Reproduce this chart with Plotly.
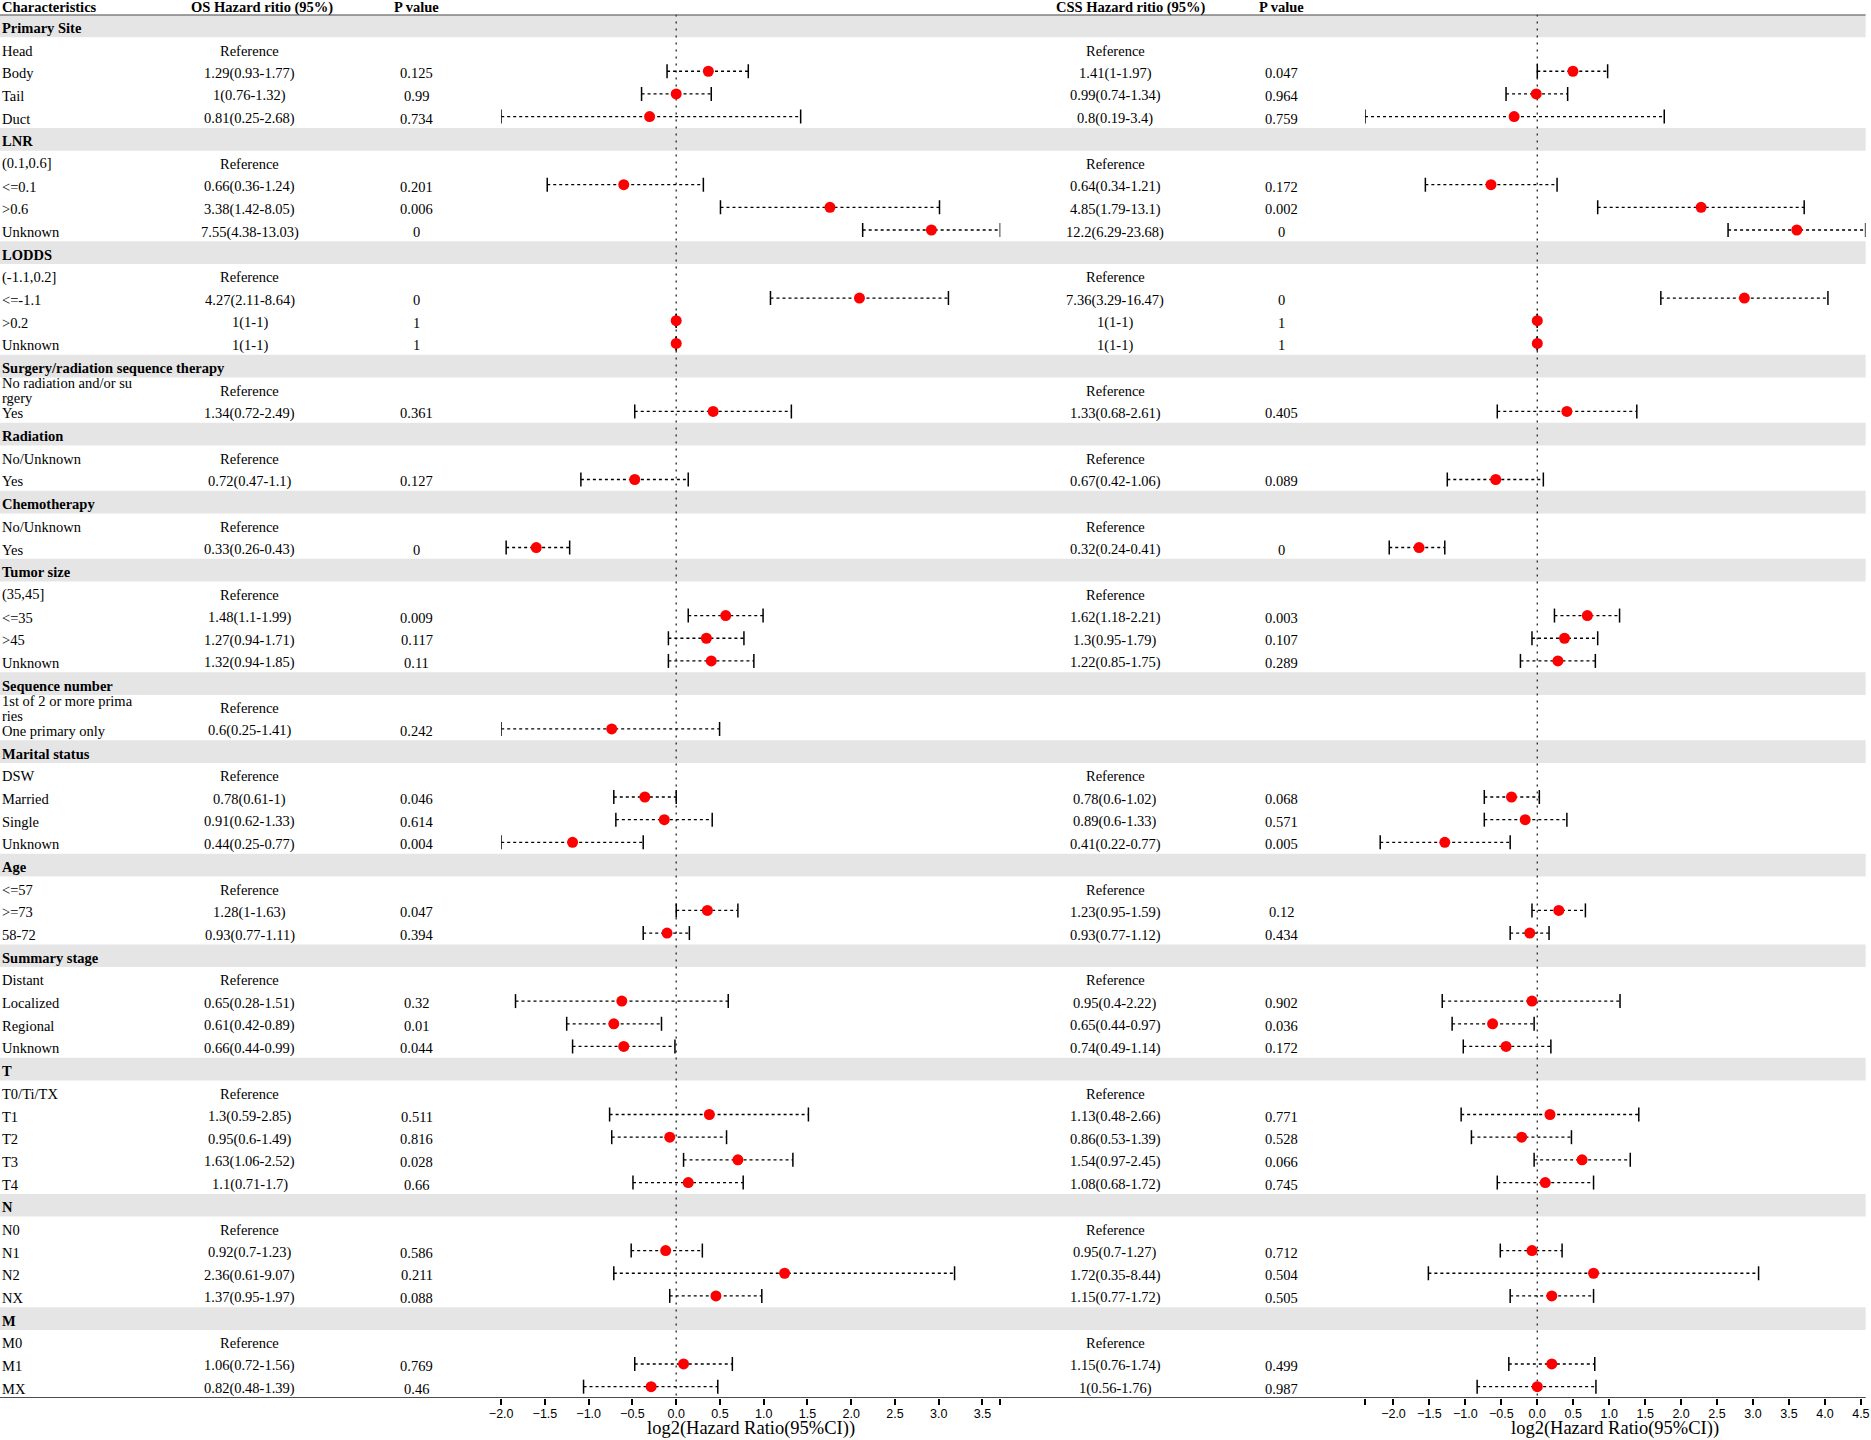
import numpy as np
import plotly.graph_objects as go

# rows of the table, top to bottom ("\n" = the label wraps onto two lines)
labels = [
    "Primary Site", "Head", "Body", "Tail", "Duct",
    "LNR", "(0.1,0.6]", "<=0.1", ">0.6", "Unknown",
    "LODDS", "(-1.1,0.2]", "<=-1.1", ">0.2", "Unknown",
    "Surgery/radiation sequence therapy", "No radiation and/or su\nrgery", "Yes",
    "Radiation", "No/Unknown", "Yes",
    "Chemotherapy", "No/Unknown", "Yes",
    "Tumor size", "(35,45]", "<=35", ">45", "Unknown",
    "Sequence number", "1st of 2 or more prima\nries", "One primary only",
    "Marital status", "DSW", "Married", "Single", "Unknown",
    "Age", "<=57", ">=73", "58-72",
    "Summary stage", "Distant", "Localized", "Regional", "Unknown",
    "T", "T0/Ti/TX", "T1", "T2", "T3", "T4",
    "N", "N0", "N1", "N2", "NX",
    "M", "M0", "M1", "MX",
]
group_names = ["Primary Site", "LNR", "LODDS", "Surgery/radiation sequence therapy",
               "Radiation", "Chemotherapy", "Tumor size", "Sequence number",
               "Marital status", "Age", "Summary stage", "T", "N", "M"]

# overall survival
os_hr = [None, None, 1.29, 1, 0.81,
         None, None, 0.66, 3.38, 7.55,
         None, None, 4.27, 1, 1,
         None, None, 1.34,
         None, None, 0.72,
         None, None, 0.33,
         None, None, 1.48, 1.27, 1.32,
         None, None, 0.6,
         None, None, 0.78, 0.91, 0.44,
         None, None, 1.28, 0.93,
         None, None, 0.65, 0.61, 0.66,
         None, None, 1.3, 0.95, 1.63, 1.1,
         None, None, 0.92, 2.36, 1.37,
         None, None, 1.06, 0.82]
os_lo = [None, None, 0.93, 0.76, 0.25,
         None, None, 0.36, 1.42, 4.38,
         None, None, 2.11, 1, 1,
         None, None, 0.72,
         None, None, 0.47,
         None, None, 0.26,
         None, None, 1.1, 0.94, 0.94,
         None, None, 0.25,
         None, None, 0.61, 0.62, 0.25,
         None, None, 1, 0.77,
         None, None, 0.28, 0.42, 0.44,
         None, None, 0.59, 0.6, 1.06, 0.71,
         None, None, 0.7, 0.61, 0.95,
         None, None, 0.72, 0.48]
os_hi = [None, None, 1.77, 1.32, 2.68,
         None, None, 1.24, 8.05, 13.03,
         None, None, 8.64, 1, 1,
         None, None, 2.49,
         None, None, 1.1,
         None, None, 0.43,
         None, None, 1.99, 1.71, 1.85,
         None, None, 1.41,
         None, None, 1, 1.33, 0.77,
         None, None, 1.63, 1.11,
         None, None, 1.51, 0.89, 0.99,
         None, None, 2.85, 1.49, 2.52, 1.7,
         None, None, 1.23, 9.07, 1.97,
         None, None, 1.56, 1.39]
os_p = [None, None, 0.125, 0.99, 0.734,
        None, None, 0.201, 0.006, 0,
        None, None, 0, 1, 1,
        None, None, 0.361,
        None, None, 0.127,
        None, None, 0,
        None, None, 0.009, 0.117, 0.11,
        None, None, 0.242,
        None, None, 0.046, 0.614, 0.004,
        None, None, 0.047, 0.394,
        None, None, 0.32, 0.01, 0.044,
        None, None, 0.511, 0.816, 0.028, 0.66,
        None, None, 0.586, 0.211, 0.088,
        None, None, 0.769, 0.46]

# cancer-specific survival
css_hr = [None, None, 1.41, 0.99, 0.8,
          None, None, 0.64, 4.85, 12.2,
          None, None, 7.36, 1, 1,
          None, None, 1.33,
          None, None, 0.67,
          None, None, 0.32,
          None, None, 1.62, 1.3, 1.22,
          None, None, None,
          None, None, 0.78, 0.89, 0.41,
          None, None, 1.23, 0.93,
          None, None, 0.95, 0.65, 0.74,
          None, None, 1.13, 0.86, 1.54, 1.08,
          None, None, 0.95, 1.72, 1.15,
          None, None, 1.15, 1]
css_lo = [None, None, 1, 0.74, 0.19,
          None, None, 0.34, 1.79, 6.29,
          None, None, 3.29, 1, 1,
          None, None, 0.68,
          None, None, 0.42,
          None, None, 0.24,
          None, None, 1.18, 0.95, 0.85,
          None, None, None,
          None, None, 0.6, 0.6, 0.22,
          None, None, 0.95, 0.77,
          None, None, 0.4, 0.44, 0.49,
          None, None, 0.48, 0.53, 0.97, 0.68,
          None, None, 0.7, 0.35, 0.77,
          None, None, 0.76, 0.56]
css_hi = [None, None, 1.97, 1.34, 3.4,
          None, None, 1.21, 13.1, 23.68,
          None, None, 16.47, 1, 1,
          None, None, 2.61,
          None, None, 1.06,
          None, None, 0.41,
          None, None, 2.21, 1.79, 1.75,
          None, None, None,
          None, None, 1.02, 1.33, 0.77,
          None, None, 1.59, 1.12,
          None, None, 2.22, 0.97, 1.14,
          None, None, 2.66, 1.39, 2.45, 1.72,
          None, None, 1.27, 8.44, 1.72,
          None, None, 1.74, 1.76]
css_p = [None, None, 0.047, 0.964, 0.759,
         None, None, 0.172, 0.002, 0,
         None, None, 0, 1, 1,
         None, None, 0.405,
         None, None, 0.089,
         None, None, 0,
         None, None, 0.003, 0.107, 0.289,
         None, None, None,
         None, None, 0.068, 0.571, 0.005,
         None, None, 0.12, 0.434,
         None, None, 0.902, 0.036, 0.172,
         None, None, 0.771, 0.528, 0.066, 0.745,
         None, None, 0.712, 0.504, 0.505,
         None, None, 0.499, 0.987]

W, H = 1871, 1440
n = len(labels)
rows = np.arange(1, n + 1)
is_group = [lab in group_names for lab in labels]
SERIF = "Liberation Serif"
SANS = "Liberation Sans"
FS = 14.5
TXT_SHIFT = -2   # table text sits a touch below the row centre

def px(x):
    return x / W

def esc(s):
    return s.replace("<", "&lt;").replace(">", "&gt;")

# pixel layout of the two forest panels
os_dom = [px(501.2), px(1000.3)]
css_dom = [px(1365.0), px(1865.6)]
right_edge = px(1865.6)

fig = go.Figure()
annotations = []
shapes = []

# grey group bands
for r, g in zip(rows, is_group):
    if g:
        shapes.append(dict(type="rect", xref="paper", yref="y", x0=0, x1=right_edge,
                           y0=r - 0.5, y1=r + 0.5, fillcolor="#e5e5e5",
                           line=dict(width=0), layer="below"))


def group_has_data(hr, i):
    j = i
    while j >= 0 and not is_group[j]:
        j -= 1
    k = j + 1
    while k < n and not is_group[k]:
        if hr[k] is not None:
            return True
        k += 1
    return False


def cell(x, r, text):
    annotations.append(dict(x=px(x), y=r, xref="paper", yref="y", text=text,
                            showarrow=False, yshift=TXT_SHIFT,
                            font=dict(family=SERIF, size=FS, color="black"),
                            xanchor="center", yanchor="middle"))


def add_side(hr, lo, hi, p, xref, hr_x, p_x):
    xs, ys, cx, cy, mx, my = [], [], [], [], [], []
    for i in range(n):
        r = rows[i]
        if is_group[i]:
            continue
        if hr[i] is None:
            if group_has_data(hr, i):
                cell(hr_x, r, "Reference")
            continue
        cell(hr_x, r, f"{hr[i]:g}({lo[i]:g}-{hi[i]:g})")
        cell(p_x, r, f"{p[i]:g}")
        l, u = np.log2(lo[i]), np.log2(hi[i])
        xs += [l, u, None]
        ys += [r, r, None]
        cx += [l, u]
        cy += [r, r]
        mx.append(np.log2(hr[i]))
        my.append(r)
    fig.add_trace(go.Scatter(x=xs, y=ys, xaxis=xref, yaxis="y", mode="lines",
                             line=dict(color="black", width=1.3, dash="3px,3px"),
                             hoverinfo="skip"))
    fig.add_trace(go.Scatter(x=cx, y=cy, xaxis=xref, yaxis="y", mode="markers",
                             marker=dict(symbol="line-ns-open", size=10, color="black",
                                         line=dict(color="black", width=1.5)),
                             hoverinfo="skip"))
    fig.add_trace(go.Scatter(x=mx, y=my, xaxis=xref, yaxis="y", mode="markers",
                             marker=dict(symbol="circle", size=11, color="#ff0000",
                                         line=dict(width=0))))


add_side(os_hr, os_lo, os_hi, os_p, "x", 250, 416.5)
add_side(css_hr, css_lo, css_hi, css_p, "x2", 1115, 1281.5)

# characteristics column
for r, lab, g in zip(rows, labels, is_group):
    lines = lab.split("\n")
    shifts = [TXT_SHIFT] if len(lines) == 1 else [TXT_SHIFT + 7.5, TXT_SHIFT - 7.5]
    for line, s in zip(lines, shifts):
        t = esc(line)
        annotations.append(dict(x=0, y=r, xref="paper", yref="y",
                                text=f"<b>{t}</b>" if g else t, showarrow=False,
                                font=dict(family=SERIF, size=FS, color="black"),
                                xanchor="left", yanchor="middle", yshift=s))

# header
for txt, x, anc in [("Characteristics", 0, "left"),
                    ("OS Hazard ritio (95%)", px(262), "center"),
                    ("P value", px(416.5), "center"),
                    ("CSS Hazard ritio (95%)", px(1130.6), "center"),
                    ("P value", px(1281.5), "center")]:
    annotations.append(dict(x=x, y=1, xref="paper", yref="paper", text=f"<b>{txt}</b>",
                            showarrow=False, xanchor=anc, yanchor="top", yshift=3,
                            font=dict(family=SERIF, size=FS, color="black")))

# axis titles
for dom in (os_dom, css_dom):
    annotations.append(dict(x=(dom[0] + dom[1]) / 2, y=0, xref="paper",
                            yref="paper", text="log2(Hazard Ratio(95%CI))",
                            showarrow=False, xanchor="center", yanchor="bottom",
                            borderpad=0,
                            font=dict(family=SERIF, size=18.5, color="black")))

# top / bottom rules and zero lines
for yv in (0.5, n + 0.5):
    shapes.append(dict(type="line", xref="paper", yref="y", x0=0, x1=right_edge,
                       y0=yv, y1=yv, line=dict(color="#4d4d4d", width=2)))
for xr in ("x", "x2"):
    shapes.append(dict(type="line", xref=xr, yref="y", x0=0, x1=0, y0=0.5, y1=n + 0.5,
                       line=dict(color="#333333", width=1.4, dash="2px,5px"),
                       layer="below"))


def axis_ticks(lo_vals, hi_vals, keep_low_end):
    lo_all = np.log2([v for v in lo_vals if v is not None])
    hi_all = np.log2([v for v in hi_vals if v is not None])
    rng = [lo_all.min(), hi_all.max()]
    vals = list(np.arange(np.ceil(rng[0] * 2) / 2, rng[1] + 1e-9, 0.5))
    text = [f"{v:.1f}".replace("-", "\u2212") for v in vals]
    if keep_low_end:
        vals = [rng[0]] + vals
        text = [""] + text
    else:
        vals = vals + [rng[1]]
        text = text + [""]
    return rng, vals, text


os_rng, os_tv, os_tt = axis_ticks(os_lo, os_hi, False)
css_rng, css_tv, css_tt = axis_ticks(css_lo, css_hi, True)

axis_style = dict(showgrid=False, zeroline=False, showline=False, ticks="outside",
                  ticklen=6, tickwidth=1.5, tickcolor="black", automargin=False,
                  ticklabelstandoff=-2,
                  tickfont=dict(family=SANS, size=12.5, color="black"), anchor="y")

fig.update_layout(
    width=W, height=H,
    margin=dict(l=0, r=0, t=0, b=0, pad=0, autoexpand=False),
    paper_bgcolor="white", plot_bgcolor="rgba(0,0,0,0)",
    showlegend=False,
    xaxis=dict(domain=os_dom, range=os_rng, tickvals=os_tv, ticktext=os_tt, **axis_style),
    xaxis2=dict(domain=css_dom, range=css_rng, tickvals=css_tv, ticktext=css_tt, **axis_style),
    yaxis=dict(domain=[1 - 1398 / H, 1 - 14.56 / H], range=[n + 0.5, 0.5],
               visible=False, showgrid=False, zeroline=False, automargin=False),
    annotations=annotations,
    shapes=shapes,
)

# the page's default body margin would push the 1871x1440 figure out of the window
fig.write_html("out.html", config={"displayModeBar": False},
               post_script="document.body.style.margin='0';"
                           "document.body.style.overflow='hidden';")
